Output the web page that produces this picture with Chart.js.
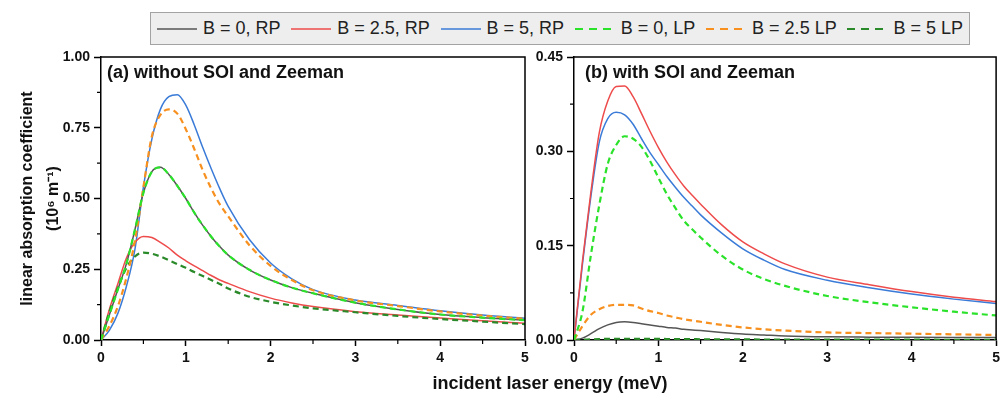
<!DOCTYPE html>
<html>
<head>
<meta charset="utf-8">
<script src="https://cdn.jsdelivr.net/npm/chart.js@4.4.1/dist/chart.umd.min.js"></script>
<style>
  html, body { margin: 0; padding: 0; background: #fff; }
  body { width: 1004px; height: 397px; position: relative; overflow: hidden;
         font-family: "Liberation Sans", Arial, sans-serif; }
  .panel { position: absolute; top: 0; }
  #wrapA { left: 0; }
  #wrapB { left: 530px; }
  #legend { position: absolute; left: 150px; top: 12px; width: 820px; height: 33px;
            box-sizing: border-box; background: #eeeeee; border: 1.5px solid #a3a3a3;
            display: flex; align-items: center; justify-content: space-between;
            padding: 0 6px; font-size: 18px; color: #222; z-index: 2; }
  #legend .item { display: flex; align-items: center; white-space: nowrap; }
  #legend svg { margin-right: 6px; }
  #xtitle { position: absolute; left: 0; width: 1100px; top: 373px; text-align: center;
            font-weight: bold; font-size: 18px; color: #111; }
</style>
</head>
<body>
<div id="legend"></div>
<div class="panel" id="wrapA"><canvas id="chartA" width="540" height="397"></canvas></div>
<div class="panel" id="wrapB"><canvas id="chartB" width="474" height="397"></canvas></div>
<div id="xtitle">incident laser energy (meV)</div>
<script>
(() => {
  'use strict'

  // incident laser energy (meV)
  const energy = [0, 0.1, 0.2, 0.3, 0.4, 0.5, 0.6, 0.7, 0.8, 0.9, 1.0, 1.1, 1.2, 1.3, 1.4, 1.5,
    1.75, 2.0, 2.25, 2.5, 3.0, 3.5, 4.0, 4.5, 5.0]

  const seriesLabels = ['B = 0, RP', 'B = 2.5, RP', 'B = 5, RP', 'B = 0, LP', 'B = 2.5 LP', 'B = 5 LP']
  const seriesColors = ['#555555', '#ee4b4b', '#3a7bd8', '#2be22b', '#f7901e', '#2a8a2a']
  const seriesDashed = [false, false, false, true, true, true]

  // (a) without SOI and Zeeman
  const aRP0 = [0, 0.09, 0.18, 0.27, 0.39, 0.52, 0.595, 0.61, 0.585, 0.545, 0.5, 0.45, 0.405, 0.365, 0.33, 0.3,
    0.248, 0.212, 0.185, 0.165, 0.132, 0.108, 0.09, 0.079, 0.07]
  const aRP25 = [0, 0.11, 0.2, 0.29, 0.345, 0.366, 0.362, 0.345, 0.325, 0.3, 0.28, 0.262, 0.245, 0.228, 0.212, 0.2,
    0.171, 0.148, 0.131, 0.118, 0.1, 0.088, 0.078, 0.068, 0.059]
  const aRP5 = [0, 0.035, 0.095, 0.19, 0.32, 0.54, 0.71, 0.815, 0.86, 0.867, 0.83, 0.76, 0.68, 0.605, 0.535, 0.472,
    0.355, 0.272, 0.216, 0.178, 0.141, 0.122, 0.103, 0.088, 0.077]
  const aLP0 = [0, 0.09, 0.18, 0.27, 0.39, 0.52, 0.595, 0.61, 0.585, 0.545, 0.5, 0.45, 0.405, 0.365, 0.33, 0.3,
    0.248, 0.212, 0.185, 0.165, 0.132, 0.108, 0.09, 0.079, 0.07]
  const aLP25 = [0, 0.05, 0.12, 0.22, 0.35, 0.54, 0.72, 0.795, 0.815, 0.8, 0.745, 0.675, 0.6, 0.535, 0.48, 0.437,
    0.335, 0.262, 0.212, 0.176, 0.14, 0.12, 0.101, 0.086, 0.075]
  const aLP5 = [0, 0.1, 0.185, 0.255, 0.295, 0.309, 0.305, 0.295, 0.282, 0.268, 0.255, 0.24, 0.226, 0.212, 0.198, 0.182,
    0.153, 0.135, 0.122, 0.112, 0.098, 0.085, 0.074, 0.065, 0.056]

  // (b) with SOI and Zeeman
  const bRP0 = [0, 0.003, 0.01, 0.018, 0.024, 0.028, 0.029, 0.028, 0.026, 0.024, 0.022, 0.02, 0.019, 0.017, 0.016, 0.015,
    0.012, 0.0095, 0.008, 0.0065, 0.005, 0.0045, 0.0042, 0.004, 0.0038]
  const bRP25 = [0, 0.125, 0.235, 0.33, 0.38, 0.403, 0.404, 0.387, 0.36, 0.332, 0.306, 0.283, 0.263, 0.245, 0.23, 0.216,
    0.183, 0.156, 0.137, 0.121, 0.1, 0.088, 0.077, 0.068, 0.061]
  const bRP5 = [0, 0.12, 0.228, 0.315, 0.352, 0.362, 0.358, 0.343, 0.32, 0.298, 0.279, 0.26, 0.243, 0.227, 0.213, 0.199,
    0.17, 0.145, 0.127, 0.112, 0.095, 0.083, 0.073, 0.065, 0.058]
  const bLP0 = [0, 0.045, 0.135, 0.215, 0.28, 0.31, 0.324, 0.32, 0.307, 0.285, 0.258, 0.232, 0.21, 0.19, 0.176, 0.163,
    0.134, 0.112, 0.097, 0.086, 0.07, 0.06, 0.052, 0.045, 0.039]
  const bLP25 = [0, 0.022, 0.04, 0.049, 0.054, 0.056, 0.056, 0.055, 0.05, 0.046, 0.043, 0.039, 0.036, 0.033, 0.031, 0.029,
    0.024, 0.02, 0.017, 0.015, 0.012, 0.011, 0.01, 0.009, 0.008]
  const bLP5 = [0, 0.0005, 0.001, 0.0015, 0.0018, 0.002, 0.002, 0.002, 0.0019, 0.0018, 0.0017, 0.0016, 0.0015, 0.0014,
    0.0013, 0.0012, 0.001, 0.0009, 0.0008, 0.0007, 0.0006, 0.0005, 0.0005, 0.0004, 0.0004]

  const xTicks = [0, 1, 2, 3, 4, 5]
  const yTicksA = [0, 0.25, 0.5, 0.75, 1.0]
  const yTicksB = [0, 0.15, 0.3, 0.45]

  Chart.defaults.font.family = "'Liberation Sans', Arial, sans-serif"
  Chart.defaults.color = '#111'

  // legend (shared by both panels)
  const legend = document.getElementById('legend')
  seriesLabels.forEach((label, i) => {
    const item = document.createElement('div')
    item.className = 'item'
    const dash = seriesDashed[i] ? ' stroke-dasharray="8 6"' : ''
    item.innerHTML = '<svg width="40" height="6"><line x1="0" y1="3" x2="40" y2="3" stroke="' +
      seriesColors[i] + '" stroke-width="' + (seriesDashed[i] ? 2.2 : 1.6) + '"' + dash + '/></svg>' +
      '<span>' + label + '</span>'
    legend.appendChild(item)
  })

  const makeDatasets = (series) => series.map((vals, i) => ({
    label: seriesLabels[i],
    data: energy.map((e, k) => ({ x: e, y: vals[k] })),
    borderColor: seriesColors[i],
    borderWidth: seriesDashed[i] ? 2.2 : 1.5,
    borderDash: seriesDashed[i] ? [6, 4] : [],
    pointRadius: 0,
    cubicInterpolationMode: 'monotone',
    order: seriesDashed[i] ? 0 : 1
  }))

  // frame, minor ticks and panel caption
  const decor = {
    id: 'decor',
    afterDraw (chart, args, opts) {
      const { ctx, chartArea: a, scales } = chart
      ctx.save()
      ctx.strokeStyle = '#000'
      ctx.lineWidth = 1.5
      ctx.beginPath()
      ctx.moveTo(a.left, a.top)
      ctx.lineTo(a.right, a.top)
      ctx.lineTo(a.right, a.bottom)
      ctx.stroke()
      ctx.lineWidth = 1.2
      ctx.beginPath()
      opts.xMinor.forEach(v => {
        const px = scales.x.getPixelForValue(v)
        ctx.moveTo(px, a.bottom)
        ctx.lineTo(px, a.bottom + 4)
      })
      opts.yMinor.forEach(v => {
        const py = scales.y.getPixelForValue(v)
        ctx.moveTo(a.left, py)
        ctx.lineTo(a.left - 4, py)
      })
      ctx.stroke()
      ctx.fillStyle = '#111'
      ctx.font = "bold 18px 'Liberation Sans', Arial, sans-serif"
      ctx.textBaseline = 'middle'
      ctx.fillText(opts.caption, a.left + opts.capX, a.top + 16)
      ctx.restore()
    }
  }

  const makeOptions = (yMax, yWidth, padRight, yTitle, caption, capX, yMinor) => ({
    responsive: false,
    animation: false,
    layout: { padding: { top: 57, right: padRight, left: 0, bottom: 0 } },
    plugins: {
      legend: { display: false },
      tooltip: { enabled: false },
      decor: { caption, capX, xMinor: [0.5, 1.5, 2.5, 3.5, 4.5], yMinor }
    },
    scales: {
      x: {
        type: 'linear',
        min: 0,
        max: 5,
        afterBuildTicks: (s) => { s.ticks = xTicks.map(v => ({ value: v })) },
        afterFit: (s) => { s.height = 57 },
        ticks: { font: { size: 14, weight: 'bold' }, padding: 4, maxRotation: 0, callback: v => String(v) },
        grid: { drawOnChartArea: false, tickLength: 6, tickColor: '#000', tickWidth: 1.5 },
        border: { color: '#000', width: 1.5 }
      },
      y: {
        min: 0,
        max: yMax,
        afterBuildTicks: (s) => { s.ticks = (yMax === 1 ? yTicksA : yTicksB).map(v => ({ value: v })) },
        afterFit: (s) => { s.width = yWidth },
        ticks: { font: { size: 14, weight: 'bold' }, padding: 4, callback: v => v.toFixed(2) },
        grid: { drawOnChartArea: false, tickLength: 7, tickColor: '#000', tickWidth: 1.5 },
        border: { color: '#000', width: 1.5 },
        title: yTitle
      }
    }
  })

  new Chart(document.getElementById('chartA'), {
    type: 'line',
    data: { datasets: makeDatasets([aRP0, aRP25, aRP5, aLP0, aLP25, aLP5]) },
    options: makeOptions(1.0, 101, 15, {
      display: true,
      text: ['linear absorption coefficient', '(10\u2076 m\u207B\u00B9)'],
      font: { size: 16, weight: 'bold', lineHeight: 1.6 },
      color: '#111',
      padding: { top: 15, bottom: 0 }
    }, '(a) without SOI and Zeeman', 6, [0.125, 0.375, 0.625, 0.875]),
    plugins: [decor]
  })

  new Chart(document.getElementById('chartB'), {
    type: 'line',
    data: { datasets: makeDatasets([bRP0, bRP25, bRP5, bLP0, bLP25, bLP5]) },
    options: makeOptions(0.45, 44, 5, { display: false }, '(b) with SOI and Zeeman', 11, [0.075, 0.225, 0.375]),
    plugins: [decor]
  })
})()
</script>
</body>
</html>
